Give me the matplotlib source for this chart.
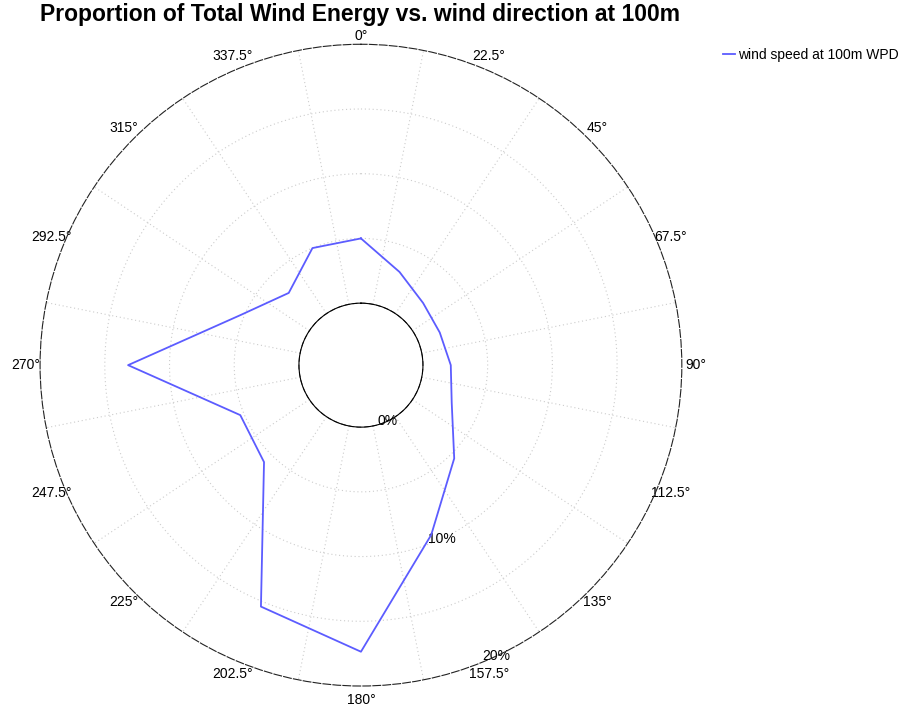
import matplotlib
matplotlib.use('Agg')
import matplotlib.pyplot as plt
import numpy as np

plt.rcParams['font.family'] = ['Liberation Sans', 'DejaVu Sans']

# direction (deg, clockwise from north) and share of total wind energy (%)
direcoes = [0, 22.5, 45, 67.5, 90, 112.5, 135, 157.5,
            180, 202.5, 225, 247.5, 270, 292.5, 315, 337.5]
energia = [5.0, 3.0, 2.0, 1.8, 2.15, 2.8, 5.4, 9.4,
           17.35, 15.4, 5.8, 5.3, 13.2, 5.3, 3.1, 5.0]
rotulos_dir = ['0°', '22.5°', '45°', '67.5°', '90°', '112.5°', '135°', '157.5°',
               '180°', '202.5°', '225°', '247.5°', '270°', '292.5°', '315°', '337.5°']
aneis = [5, 10, 15]
rotulos_r = [0, 10, 20]

fig = plt.figure(figsize=(8.99, 7.06), dpi=100)
ax = fig.add_axes([0.0445, 0.0283, 0.714, 0.909], projection='polar')
ax.set_theta_zero_location('N')
ax.set_theta_direction(-1)
ax.set_ylim(0, 20)
ax.set_rorigin(-4.79)

# grid feito a mao: raios entre as direcoes e aneis a cada 5%
ax.grid(False)
for a in np.arange(11.25, 360, 22.5):
    ax.plot([np.radians(a)] * 2, [0, 20], color='#cccccc', lw=0.8, ls=(0, (1, 2.5)), zorder=1)
circ = np.linspace(0, 2 * np.pi, 361)
for r in aneis:
    ax.plot(circ, [r] * len(circ), color='#cccccc', lw=0.8, ls=(0, (1, 2.5)), zorder=1)
ax.plot(circ, [0] * len(circ), color='#444444', lw=0.7, ls=(0, (5, 3)), clip_on=False, zorder=2)

theta = np.radians(direcoes + [direcoes[0]])
valores = energia + [energia[0]]
ax.plot(theta, valores, color='#5c5cff', lw=1.3, label='wind speed at 100m WPD', zorder=3)

ax.set_xticks(np.radians(direcoes))
# o rotulo de 0 grau vai a mao, mais perto do circulo (como no original)
ax.set_xticklabels([''] + rotulos_dir[1:], fontsize=10)
ax.text(0, 20.08, rotulos_dir[0], fontsize=10, ha='center', va='bottom', clip_on=False)
ax.tick_params(axis='x', pad=3, length=0)
ax.set_yticks(rotulos_r)
ax.set_yticklabels([f'{v}%' for v in rotulos_r], fontsize=10)
ax.set_rlabel_position(155)
for t in ax.get_yticklabels():
    t.set_horizontalalignment('center')
    t.set_verticalalignment('center')

ax.spines['polar'].set_color('#222222')
ax.spines['polar'].set_linewidth(0.8)
ax.spines['polar'].set_linestyle((0, (7, 2)))
ax.spines['inner'].set_visible(False)

fig.text(0.401, 0.979, 'Proportion of Total Wind Energy vs. wind direction at 100m',
         fontsize=16.5, fontweight='bold', ha='center', va='center')

fig.legend(loc='upper left', bbox_to_anchor=(0.79, 0.95), frameon=False,
           fontsize=10, handlelength=0.9, handletextpad=0.2)

fig.savefig('out.png', dpi=100)
